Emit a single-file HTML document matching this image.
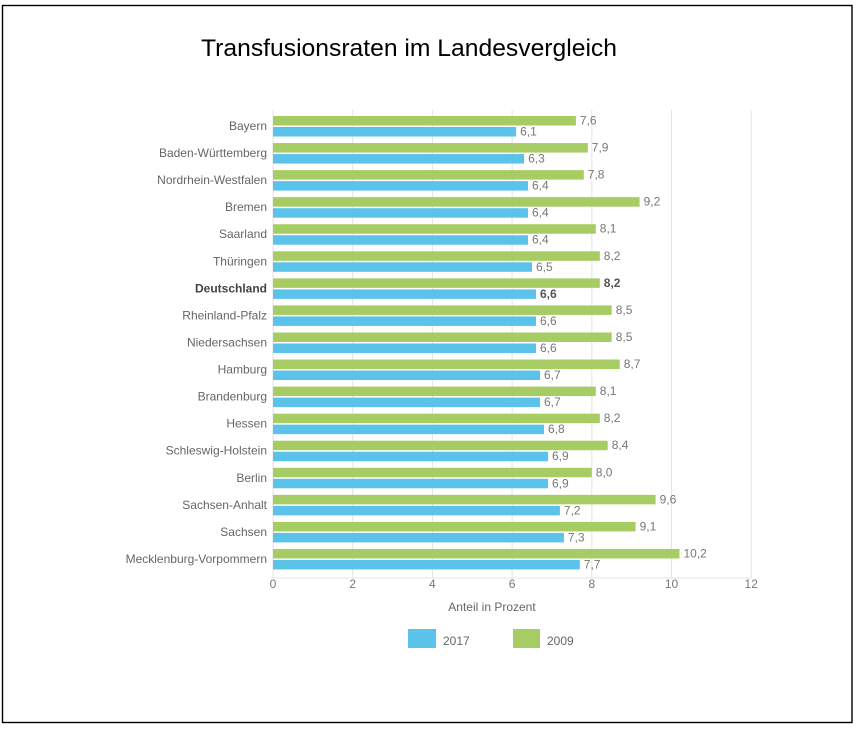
<!DOCTYPE html>
<html>
<head>
<meta charset="utf-8">
<style>
  html, body { margin:0; padding:0; background:#fff; }
  svg { display:block; }
  text { font-family: "Liberation Sans", "DejaVu Sans", sans-serif; }
</style>
</head>
<body>
<svg width="862" height="729" viewBox="0 0 862 729" xmlns="http://www.w3.org/2000/svg">
  <rect x="0" y="0" width="862" height="729" fill="#fff"/>
  <!-- outer frame -->
  <rect x="2.5" y="5.5" width="849.5" height="717" fill="none" stroke="#000" stroke-width="1.4"/>

  <!-- title -->
  <text x="201" y="56" font-size="24" fill="#000" textLength="416" lengthAdjust="spacingAndGlyphs">Transfusionsraten im Landesvergleich</text>

  <!-- gridlines -->
  <g stroke="#e3e3e3" stroke-width="1">
    <line x1="352.7" y1="110" x2="352.7" y2="578"/>
    <line x1="432.4" y1="110" x2="432.4" y2="578"/>
    <line x1="512.1" y1="110" x2="512.1" y2="578"/>
    <line x1="591.8" y1="110" x2="591.8" y2="578"/>
    <line x1="671.5" y1="110" x2="671.5" y2="578"/>
    <line x1="751.2" y1="110" x2="751.2" y2="578"/>
    <line x1="273" y1="578" x2="751.2" y2="578"/>
    <line x1="273" y1="110" x2="273" y2="578"/>
  </g>

  <g id="bars"></g>

  <!-- tick labels -->
  <g font-size="12" fill="#777" text-anchor="middle">
    <text x="273" y="588">0</text>
    <text x="352.7" y="588">2</text>
    <text x="432.4" y="588">4</text>
    <text x="512.1" y="588">6</text>
    <text x="591.8" y="588">8</text>
    <text x="671.5" y="588">10</text>
    <text x="751.2" y="588">12</text>
  </g>
  <text x="492" y="611" font-size="12" fill="#666" text-anchor="middle">Anteil in Prozent</text>

  <!-- legend -->
  <rect x="408" y="629" width="28" height="19" fill="#5bc3e9"/>
  <text x="443" y="645" font-size="12" fill="#666">2017</text>
  <rect x="513" y="629" width="27" height="19" fill="#a6cc63"/>
  <text x="547" y="645" font-size="12" fill="#666">2009</text>

  <!-- rows -->
  <g font-size="12">
    <!-- row template: gtop = 116 + i*27.06 -->
    <!-- 0 Bayern -->
    <rect x="273" y="116" width="302.9" height="9.5" fill="#a6cc63"/>
    <rect x="273" y="127" width="243.1" height="9.5" fill="#5bc3e9"/>
    <text x="267" y="130" fill="#666" text-anchor="end">Bayern</text>
    <text x="579.9" y="124.5" fill="#777">7,6</text>
    <text x="520.1" y="135.5" fill="#777">6,1</text>

    <!-- 1 Baden-Württemberg gtop=143.06 -->
    <rect x="273" y="143.06" width="314.8" height="9.5" fill="#a6cc63"/>
    <rect x="273" y="154.06" width="251.1" height="9.5" fill="#5bc3e9"/>
    <text x="267" y="157.06" fill="#666" text-anchor="end">Baden-Württemberg</text>
    <text x="591.8" y="151.56" fill="#777">7,9</text>
    <text x="528.1" y="162.56" fill="#777">6,3</text>

    <!-- 2 NRW gtop=170.12 -->
    <rect x="273" y="170.12" width="310.8" height="9.5" fill="#a6cc63"/>
    <rect x="273" y="181.12" width="255" height="9.5" fill="#5bc3e9"/>
    <text x="267" y="184.12" fill="#666" text-anchor="end">Nordrhein-Westfalen</text>
    <text x="587.8" y="178.62" fill="#777">7,8</text>
    <text x="532" y="189.62" fill="#777">6,4</text>

    <!-- 3 Bremen gtop=197.18 -->
    <rect x="273" y="197.18" width="366.6" height="9.5" fill="#a6cc63"/>
    <rect x="273" y="208.18" width="255" height="9.5" fill="#5bc3e9"/>
    <text x="267" y="211.18" fill="#666" text-anchor="end">Bremen</text>
    <text x="643.6" y="205.68" fill="#777">9,2</text>
    <text x="532" y="216.68" fill="#777">6,4</text>

    <!-- 4 Saarland gtop=224.24 -->
    <rect x="273" y="224.24" width="322.8" height="9.5" fill="#a6cc63"/>
    <rect x="273" y="235.24" width="255" height="9.5" fill="#5bc3e9"/>
    <text x="267" y="238.24" fill="#666" text-anchor="end">Saarland</text>
    <text x="599.8" y="232.74" fill="#777">8,1</text>
    <text x="532" y="243.74" fill="#777">6,4</text>

    <!-- 5 Thüringen gtop=251.3 -->
    <rect x="273" y="251.3" width="326.8" height="9.5" fill="#a6cc63"/>
    <rect x="273" y="262.3" width="259" height="9.5" fill="#5bc3e9"/>
    <text x="267" y="265.3" fill="#666" text-anchor="end">Thüringen</text>
    <text x="603.8" y="259.8" fill="#777">8,2</text>
    <text x="536" y="270.8" fill="#777">6,5</text>

    <!-- 6 Deutschland gtop=278.36 -->
    <rect x="273" y="278.36" width="326.8" height="9.5" fill="#a6cc63"/>
    <rect x="273" y="289.36" width="263" height="9.5" fill="#5bc3e9"/>
    <text x="267" y="292.36" fill="#444" font-weight="bold" text-anchor="end">Deutschland</text>
    <text x="603.8" y="286.86" fill="#555" font-weight="bold">8,2</text>
    <text x="540" y="297.86" fill="#555" font-weight="bold">6,6</text>

    <!-- 7 Rheinland-Pfalz gtop=305.42 -->
    <rect x="273" y="305.42" width="338.7" height="9.5" fill="#a6cc63"/>
    <rect x="273" y="316.42" width="263" height="9.5" fill="#5bc3e9"/>
    <text x="267" y="319.42" fill="#666" text-anchor="end">Rheinland-Pfalz</text>
    <text x="615.7" y="313.92" fill="#777">8,5</text>
    <text x="540" y="324.92" fill="#777">6,6</text>

    <!-- 8 Niedersachsen gtop=332.48 -->
    <rect x="273" y="332.48" width="338.7" height="9.5" fill="#a6cc63"/>
    <rect x="273" y="343.48" width="263" height="9.5" fill="#5bc3e9"/>
    <text x="267" y="346.48" fill="#666" text-anchor="end">Niedersachsen</text>
    <text x="615.7" y="340.98" fill="#777">8,5</text>
    <text x="540" y="351.98" fill="#777">6,6</text>

    <!-- 9 Hamburg gtop=359.54 -->
    <rect x="273" y="359.54" width="346.7" height="9.5" fill="#a6cc63"/>
    <rect x="273" y="370.54" width="267" height="9.5" fill="#5bc3e9"/>
    <text x="267" y="373.54" fill="#666" text-anchor="end">Hamburg</text>
    <text x="623.7" y="368.04" fill="#777">8,7</text>
    <text x="544" y="379.04" fill="#777">6,7</text>

    <!-- 10 Brandenburg gtop=386.6 -->
    <rect x="273" y="386.6" width="322.8" height="9.5" fill="#a6cc63"/>
    <rect x="273" y="397.6" width="267" height="9.5" fill="#5bc3e9"/>
    <text x="267" y="400.6" fill="#666" text-anchor="end">Brandenburg</text>
    <text x="599.8" y="395.1" fill="#777">8,1</text>
    <text x="544" y="406.1" fill="#777">6,7</text>

    <!-- 11 Hessen gtop=413.66 -->
    <rect x="273" y="413.66" width="326.8" height="9.5" fill="#a6cc63"/>
    <rect x="273" y="424.66" width="271" height="9.5" fill="#5bc3e9"/>
    <text x="267" y="427.66" fill="#666" text-anchor="end">Hessen</text>
    <text x="603.8" y="422.16" fill="#777">8,2</text>
    <text x="548" y="433.16" fill="#777">6,8</text>

    <!-- 12 Schleswig-Holstein gtop=440.72 -->
    <rect x="273" y="440.72" width="334.7" height="9.5" fill="#a6cc63"/>
    <rect x="273" y="451.72" width="275" height="9.5" fill="#5bc3e9"/>
    <text x="267" y="454.72" fill="#666" text-anchor="end">Schleswig-Holstein</text>
    <text x="611.7" y="449.22" fill="#777">8,4</text>
    <text x="552" y="460.22" fill="#777">6,9</text>

    <!-- 13 Berlin gtop=467.78 -->
    <rect x="273" y="467.78" width="318.8" height="9.5" fill="#a6cc63"/>
    <rect x="273" y="478.78" width="275" height="9.5" fill="#5bc3e9"/>
    <text x="267" y="481.78" fill="#666" text-anchor="end">Berlin</text>
    <text x="595.8" y="476.28" fill="#777">8,0</text>
    <text x="552" y="487.28" fill="#777">6,9</text>

    <!-- 14 Sachsen-Anhalt gtop=494.84 -->
    <rect x="273" y="494.84" width="382.6" height="9.5" fill="#a6cc63"/>
    <rect x="273" y="505.84" width="286.9" height="9.5" fill="#5bc3e9"/>
    <text x="267" y="508.84" fill="#666" text-anchor="end">Sachsen-Anhalt</text>
    <text x="659.6" y="503.34" fill="#777">9,6</text>
    <text x="563.9" y="514.34" fill="#777">7,2</text>

    <!-- 15 Sachsen gtop=521.9 -->
    <rect x="273" y="521.9" width="362.6" height="9.5" fill="#a6cc63"/>
    <rect x="273" y="532.9" width="290.9" height="9.5" fill="#5bc3e9"/>
    <text x="267" y="535.9" fill="#666" text-anchor="end">Sachsen</text>
    <text x="639.6" y="530.4" fill="#777">9,1</text>
    <text x="567.9" y="541.4" fill="#777">7,3</text>

    <!-- 16 Mecklenburg-Vorpommern gtop=548.96 -->
    <rect x="273" y="548.96" width="406.5" height="9.5" fill="#a6cc63"/>
    <rect x="273" y="559.96" width="306.8" height="9.5" fill="#5bc3e9"/>
    <text x="267" y="562.96" fill="#666" text-anchor="end">Mecklenburg-Vorpommern</text>
    <text x="683.5" y="557.46" fill="#777">10,2</text>
    <text x="583.8" y="568.46" fill="#777">7,7</text>
  </g>
</svg>
</body>
</html>
